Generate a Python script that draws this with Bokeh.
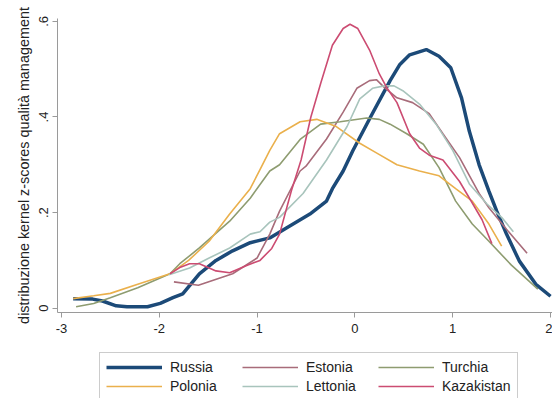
from bokeh.plotting import figure
from bokeh.layouts import column
from bokeh.models import Range1d, FixedTicker, CustomJSTickFormatter, Legend, LegendItem
from bokeh.embed import file_html
from bokeh.resources import INLINE

# ---- data ----
russia_x = [-2.88, -2.68, -2.58, -2.44, -2.33, -2.12, -1.99, -1.86, -1.76, -1.59, -1.42, -1.25, -1.07, -0.87,
            -0.70, -0.46, -0.29, -0.23, -0.12, -0.02, 0.16, 0.36, 0.46, 0.56, 0.73, 0.86, 0.98, 1.09, 1.17,
            1.27, 1.37, 1.45, 1.55, 1.68, 1.85, 2.0]
russia_y = [0.020, 0.019, 0.015, 0.005, 0.003, 0.003, 0.010, 0.022, 0.030, 0.072, 0.100, 0.120, 0.137, 0.147,
            0.168, 0.197, 0.224, 0.250, 0.287, 0.330, 0.400, 0.476, 0.510, 0.530, 0.541, 0.527, 0.503, 0.440, 0.370,
            0.300, 0.245, 0.203, 0.155, 0.099, 0.050, 0.025]

estonia_x = [-1.85, -1.60, -1.25, -1.00, -0.87, -0.77, -0.56, -0.50, -0.29, -0.12, 0.02, 0.15, 0.22, 0.30,
             0.43, 0.59, 0.76, 0.90, 1.07, 1.27, 1.37, 1.55, 1.76]
estonia_y = [0.055, 0.048, 0.072, 0.105, 0.155, 0.203, 0.287, 0.297, 0.354, 0.410, 0.460, 0.476, 0.478, 0.462,
             0.440, 0.430, 0.407, 0.365, 0.315, 0.240, 0.210, 0.165, 0.115]

turchia_x = [-2.85, -2.67, -2.50, -2.22, -1.89, -1.79, -1.59, -1.28, -1.07, -0.87, -0.77, -0.56, -0.35, -0.15,
             0.12, 0.25, 0.36, 0.53, 0.70, 0.86, 1.03, 1.20, 1.37, 1.60, 1.87]
turchia_y = [0.003, 0.010, 0.022, 0.043, 0.072, 0.093, 0.126, 0.182, 0.230, 0.287, 0.300, 0.353, 0.385, 0.390,
             0.398, 0.395, 0.385, 0.365, 0.343, 0.294, 0.224, 0.176, 0.140, 0.090, 0.040]

polonia_x = [-2.88, -2.67, -2.50, -2.22, -1.89, -1.70, -1.49, -1.28, -1.07, -0.97, -0.87, -0.77, -0.56, -0.39,
             -0.19, 0.05, 0.22, 0.43, 0.66, 0.86, 1.03, 1.20, 1.37, 1.50]
polonia_y = [0.020, 0.026, 0.031, 0.050, 0.072, 0.100, 0.140, 0.197, 0.250, 0.290, 0.330, 0.365, 0.390, 0.395,
             0.380, 0.345, 0.325, 0.300, 0.287, 0.277, 0.250, 0.224, 0.176, 0.130]

lettonia_x = [-1.90, -1.69, -1.49, -1.28, -1.07, -0.97, -0.87, -0.77, -0.53, -0.29, -0.08, 0.05, 0.18, 0.30,
              0.40, 0.49, 0.66, 0.83, 1.00, 1.17, 1.35, 1.50, 1.62]
lettonia_y = [0.070, 0.084, 0.105, 0.126, 0.155, 0.160, 0.180, 0.190, 0.240, 0.310, 0.380, 0.438, 0.460, 0.465,
              0.465, 0.455, 0.427, 0.385, 0.330, 0.260, 0.218, 0.190, 0.160]

kazakistan_x = [-1.89, -1.79, -1.69, -1.59, -1.42, -1.28, -1.10, -0.97, -0.85, -0.77, -0.65, -0.55, -0.45,
                -0.35, -0.23, -0.12, -0.05, 0.03, 0.15, 0.25, 0.33, 0.43, 0.56, 0.66, 0.76, 0.90, 1.07, 1.20,
                1.30, 1.40]
kazakistan_y = [0.072, 0.085, 0.093, 0.093, 0.078, 0.074, 0.090, 0.100, 0.125, 0.155, 0.245, 0.310, 0.400,
                0.470, 0.550, 0.585, 0.594, 0.585, 0.540, 0.490, 0.460, 0.430, 0.365, 0.335, 0.320, 0.310, 0.265,
                0.220, 0.185, 0.135]

x_ticks = [-3, -2, -1, 0, 1, 2]
y_ticks = [0, 0.2, 0.4, 0.6]
y_title = "distribuzione kernel z-scores qualità management"

series = [
    ("Russia", russia_x, russia_y, "#1c4a78", 3.5),
    ("Estonia", estonia_x, estonia_y, "#a86c7a", 1.6),
    ("Turchia", turchia_x, turchia_y, "#8e9c70", 1.6),
    ("Polonia", polonia_x, polonia_y, "#eab04c", 1.6),
    ("Lettonia", lettonia_x, lettonia_y, "#a8c4bc", 1.6),
    ("Kazakistan", kazakistan_x, kazakistan_y, "#cc4c72", 1.6),
]
legend_order = ["Russia", "Estonia", "Turchia", "Polonia", "Lettonia", "Kazakistan"]

FONT = "Liberation Sans"

# ---- main chart ----
p = figure(frame_width=495, frame_height=294, output_backend="svg", toolbar_location=None,
           x_range=Range1d(-3.04, 2.02), y_range=Range1d(-0.009, 0.606),
           min_border_left=57, min_border_right=0, min_border_top=18, min_border_bottom=28)
p.outline_line_color = None
p.xgrid.visible = False
p.ygrid.visible = False
p.background_fill_color = "white"
p.border_fill_color = "white"

for name, xs, ys, col, lw in series:
    p.line(xs, ys, line_color=col, line_width=lw)

for ax in (p.xaxis[0], p.yaxis[0]):
    ax.axis_line_color = "#9a9a9a"
    ax.major_tick_line_color = "#9a9a9a"
    ax.major_tick_out = 5
    ax.major_tick_in = 0
    ax.minor_tick_line_color = None
    ax.major_label_text_font = FONT
    ax.major_label_text_font_size = "13px"
    ax.major_label_text_color = "#222222"

p.xaxis.major_label_standoff = 6
p.yaxis.major_label_standoff = 4
p.xaxis.ticker = FixedTicker(ticks=x_ticks)
p.xaxis.formatter = CustomJSTickFormatter(code="return tick.toString();")
p.yaxis.ticker = FixedTicker(ticks=y_ticks)
p.yaxis.formatter = CustomJSTickFormatter(code="return tick == 0 ? '0' : tick.toFixed(1).replace(/^0/, '');")
p.yaxis.major_label_orientation = "vertical"
p.yaxis.axis_label = y_title
p.yaxis.axis_label_text_font = FONT
p.yaxis.axis_label_text_font_size = "14.4px"
p.yaxis.axis_label_text_font_style = "normal"
p.yaxis.axis_label_text_color = "#222222"
p.yaxis.axis_label_standoff = 5

# ---- legend strip below the chart (frame aligned with the chart's frame) ----
q = figure(width=552, height=58, output_backend="svg", toolbar_location=None,
           x_range=Range1d(100, 101), y_range=Range1d(100, 101),
           x_axis_location=None, y_axis_location=None,
           min_border_left=0, min_border_right=0, min_border_top=0, min_border_bottom=0)
q.outline_line_color = None
q.xgrid.visible = False
q.ygrid.visible = False

# legend keys: same series, lying outside this strip's ranges (nothing visible is drawn)
proxies = {}
for name, xs, ys, col, lw in series:
    proxies[name] = q.line(xs, ys, line_color=col, line_width=lw)

legend = Legend(items=[LegendItem(label=n, renderers=[proxies[n]]) for n in legend_order],
                orientation="horizontal", ncols=3, location=(42, -3),
                glyph_width=56, glyph_height=16, label_standoff=8, label_width=69, spacing=3,
                label_text_font=FONT, label_text_font_size="14px", label_text_color="#222222",
                border_line_color="#9a9a9a", border_line_width=1, padding=6, margin=0,
                label_height=16)
q.add_layout(legend)

layout = column(p, q, spacing=0)
open("out.html", "w").write(file_html(layout, INLINE))
